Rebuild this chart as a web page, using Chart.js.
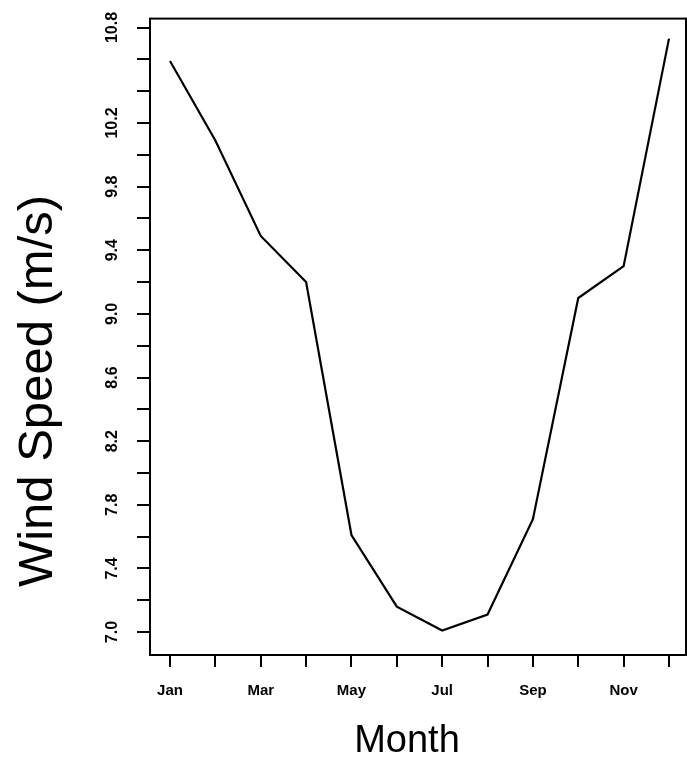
<!DOCTYPE html>
<html><head><meta charset="utf-8">
<script src="https://cdn.jsdelivr.net/npm/chart.js@4/dist/chart.umd.min.js"></script>
<style>html,body{margin:0;padding:0;background:#fff}</style>
</head><body>
<canvas id="c" width="687" height="760"></canvas>
<script>
const months = ['Jan','Feb','Mar','Apr','May','Jun','Jul','Aug','Sep','Oct','Nov','Dec'];
const monthIndex = [1,2,3,4,5,6,7,8,9,10,11,12];
const windSpeed = [10.59, 10.09, 9.49, 9.20, 7.61, 7.16, 7.01, 7.11, 7.71, 9.10, 9.30, 10.73];
const xTickLabels = ['Jan','','Mar','','May','','Jul','','Sep','','Nov',''];
const yTickValues = [7.0,7.2,7.4,7.6,7.8,8.0,8.2,8.4,8.6,8.8,9.0,9.2,9.4,9.6,9.8,10.0,10.2,10.4,10.6,10.8];
const yTickLabels = ['7.0','','7.4','','7.8','','8.2','','8.6','','9.0','','9.4','','9.8','','10.2','','','10.8'];
const xTitle = 'Month';
const yTitle = 'Wind Speed (m/s)';

const FONT = "'Liberation Sans', Arial, Helvetica, sans-serif";

const frame = {
  id: 'frame',
  afterDraw(chart) {
    const {ctx, chartArea: a} = chart;
    ctx.save();
    ctx.strokeStyle = '#000';
    ctx.lineWidth = 2;
    ctx.strokeRect(a.left, a.top, a.right - a.left, a.bottom - a.top);
    ctx.fillStyle = '#000';
    // y title
    ctx.save();
    ctx.translate(52, 391);
    ctx.rotate(-Math.PI / 2);
    ctx.font = '49px ' + FONT;
    ctx.textAlign = 'center';
    ctx.textBaseline = 'alphabetic';
    ctx.fillText(yTitle, 0, 0);
    ctx.restore();
    // x title
    ctx.font = '38px ' + FONT;
    ctx.textAlign = 'center';
    ctx.textBaseline = 'alphabetic';
    ctx.fillText(xTitle, 407, 752);
    ctx.restore();
  }
};

new Chart(document.getElementById('c'), {
  type: 'line',
  data: {
    datasets: [{
      data: monthIndex.map((m, i) => ({x: m, y: windSpeed[i]})),
      borderColor: '#000',
      borderWidth: 2.2,
      pointRadius: 0,
      tension: 0,
      fill: false
    }]
  },
  options: {
    responsive: false,
    animation: false,
    devicePixelRatio: 1,
    plugins: {legend: {display: false}, tooltip: {enabled: false}},
    layout: {padding: {left: 0, right: 1, top: 15, bottom: 0}},
    scales: {
      x: {
        type: 'linear', min: 0.559, max: 12.375,
        afterBuildTicks: s => { s.ticks = monthIndex.map(v => ({value: v})); },
        afterFit: s => { s.height = 105; },
        grid: {drawOnChartArea: false, drawTicks: true, tickLength: 12, color: '#000', lineWidth: 2},
        border: {display: true, color: '#000', width: 2},
        ticks: {
          autoSkip: false, maxRotation: 0, minRotation: 0,
          callback: (v, i) => xTickLabels[i],
          color: '#000', padding: 15,
          font: {family: FONT, size: 15, weight: 'bold'}
        }
      },
      y: {
        type: 'linear', min: 6.856, max: 10.856,
        afterBuildTicks: s => { s.ticks = yTickValues.map(v => ({value: v})); },
        afterFit: s => { s.width = 150; },
        grid: {drawOnChartArea: false, drawTicks: true, tickLength: 13, color: '#000', lineWidth: 2},
        border: {display: true, color: '#000', width: 2},
        ticks: {
          autoSkip: false, minRotation: 90, maxRotation: 90, crossAlign: 'center',
          callback: (v, i) => yTickLabels[i],
          color: '#000', padding: 9,
          font: {family: FONT, size: 16, weight: 'bold'}
        }
      }
    }
  },
  plugins: [frame]
});
</script>
</body></html>
